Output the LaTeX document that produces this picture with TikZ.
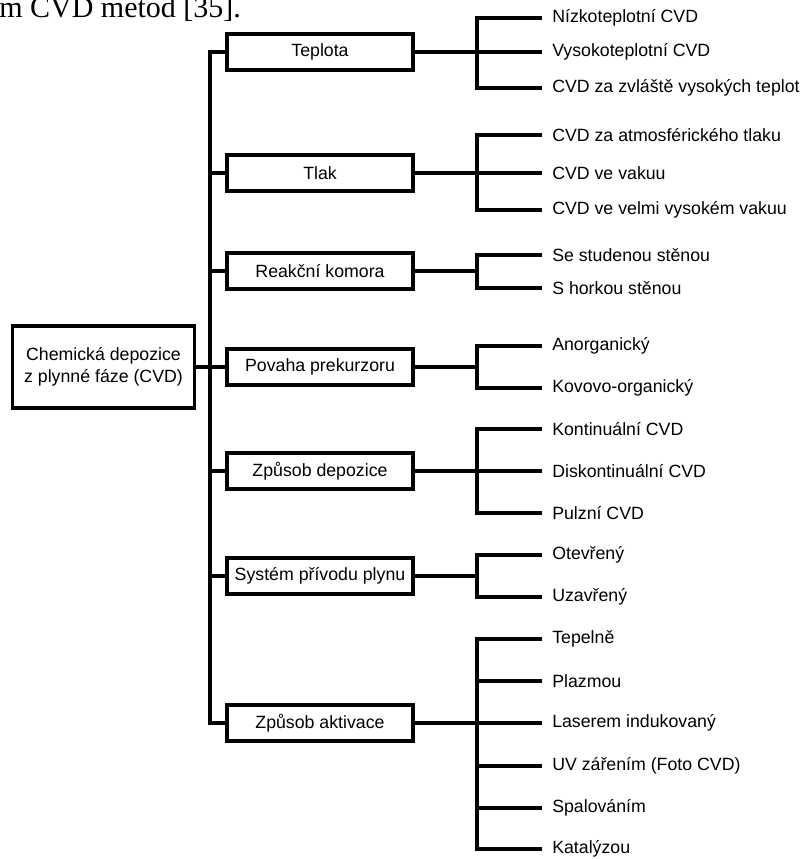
\documentclass[tikz,border=0pt]{standalone}
\usepackage{fontspec}
\setmainfont{Liberation Sans}
\newfontfamily\pagefont{Liberation Serif}
\tikzset{
  catbox/.style={draw,line width=2.4pt,minimum width=139.5pt,minimum height=27pt,inner sep=2pt,font=\fontsize{13.3}{16}\selectfont},
  leaf/.style={anchor=west,inner xsep=7.5pt,inner ysep=1pt,font=\fontsize{13.3}{16}\selectfont},
  link/.style={line width=2.4pt},
  boldlink/.style={line width=3.2pt}
}
\begin{document}
\begin{tikzpicture}[x=0.75pt,y=0.75pt,yscale=-1,xscale=1]
\useasboundingbox (0,0) rectangle (803,859);

%Text: cut line of the page above
\node[anchor=base west,inner sep=0pt,font=\pagefont\fontsize{22.5}{27}\selectfont] (pageline) at (-1,18) {m CVD metod [35].};

%Shape: Rectangle (root)
\node[draw,line width=2.4pt,minimum width=137pt,minimum height=61.5pt,align=center,font=\fontsize{13.3}{16.5}\selectfont] (root) at (103.5,367) {Chemická depozice\\z plynné fáze (CVD)};

%Shape: Rectangles (categories)
\node[catbox] (teplota) at (320,52) {Teplota};
\node[catbox] (tlak) at (320,173) {Tlak};
\node[catbox] (komora) at (320,271) {Reakční komora};
\node[catbox] (povaha) at (320,367) {Povaha prekurzoru};
\node[catbox] (depozice) at (320,471) {Způsob depozice};
\node[catbox] (privod) at (320,576) {Systém přívodu plynu};
\node[catbox] (aktivace) at (320,723) {Způsob aktivace};

%Text: leaves
\node[leaf] (t1) at (542,18) {Nízkoteplotní CVD};
\node[leaf] (t2) at (542,52) {Vysokoteplotní CVD};
\node[leaf] (t3) at (542,88) {CVD za zvláště vysokých teplot};
\node[leaf] (p1) at (542,135) {CVD za atmosférického tlaku};
\node[leaf] (p2) at (542,173) {CVD ve vakuu};
\node[leaf] (p3) at (542,210) {CVD ve velmi vysokém vakuu};
\node[leaf] (r1) at (542,255) {Se studenou stěnou};
\node[leaf] (r2) at (542,288) {S horkou stěnou};
\node[leaf] (v1) at (542,346) {Anorganický};
\node[leaf] (v2) at (542,388) {Kovovo-organický};
\node[leaf] (d1) at (542,429) {Kontinuální CVD};
\node[leaf] (d2) at (542,471) {Diskontinuální CVD};
\node[leaf] (d3) at (542,513) {Pulzní CVD};
\node[leaf] (s1) at (542,555) {Otevřený};
\node[leaf] (s2) at (542,597) {Uzavřený};
\node[leaf] (a1) at (542,639) {Tepelně};
\node[leaf] (a2) at (542,681) {Plazmou};
\node[leaf] (a3) at (542,723) {Laserem indukovaný};
\node[leaf] (a4) at (542,766) {UV zářením (Foto CVD)};
\node[leaf] (a5) at (542,808) {Spalováním};
\node[leaf] (a6) at (542,849) {Katalýzou};

\coordinate (trunk) at (210,0);
\coordinate (fork) at (477,0);

%Straight Lines: trunk
\draw[link] (root.east) -- (root.east -| trunk);
\draw[link] (teplota.west) -- (teplota.west -| trunk) -- (aktivace.west -| trunk) -- (aktivace.west);
\draw[link] (tlak.west -| trunk) -- (tlak.west);
\draw[link] (komora.west -| trunk) -- (komora.west);
\draw[link] (povaha.west -| trunk) -- (povaha.west);
\draw[link] (depozice.west -| trunk) -- (depozice.west);
\draw[link] (privod.west -| trunk) -- (privod.west);

%Straight Lines: Teplota
\draw[boldlink] (teplota.east) -- (teplota.east -| fork);
\draw[link] (t1.west) -- (t1.west -| fork) -- (t3.west -| fork) -- (t3.west);
\draw[link] (t2.west -| fork) -- (t2.west);

%Straight Lines: Tlak
\draw[link] (tlak.east) -- (tlak.east -| fork);
\draw[link] (p1.west) -- (p1.west -| fork) -- (p3.west -| fork) -- (p3.west);
\draw[link] (p2.west -| fork) -- (p2.west);

%Straight Lines: Reakcni komora
\draw[link] (komora.east) -- (komora.east -| fork);
\draw[link] (r1.west) -- (r1.west -| fork) -- (r2.west -| fork) -- (r2.west);

%Straight Lines: Povaha prekurzoru
\draw[link] (povaha.east) -- (povaha.east -| fork);
\draw[link] (v1.west) -- (v1.west -| fork) -- (v2.west -| fork) -- (v2.west);

%Straight Lines: Zpusob depozice
\draw[link] (depozice.east) -- (depozice.east -| fork);
\draw[boldlink] (d1.west) -- (d1.west -| fork) -- (d3.west -| fork) -- (d3.west);
\draw[link] (d2.west -| fork) -- (d2.west);

%Straight Lines: System privodu plynu
\draw[link] (privod.east) -- (privod.east -| fork);
\draw[link] (s1.west) -- (s1.west -| fork) -- (s2.west -| fork) -- (s2.west);

%Straight Lines: Zpusob aktivace
\draw[link] (aktivace.east) -- (aktivace.east -| fork);
\draw[link] (a1.west) -- (a1.west -| fork) -- (a6.west -| fork) -- (a6.west);
\draw[link] (a2.west -| fork) -- (a2.west);
\draw[link] (a3.west -| fork) -- (a3.west);
\draw[link] (a4.west -| fork) -- (a4.west);
\draw[link] (a5.west -| fork) -- (a5.west);

\end{tikzpicture}
\end{document}
